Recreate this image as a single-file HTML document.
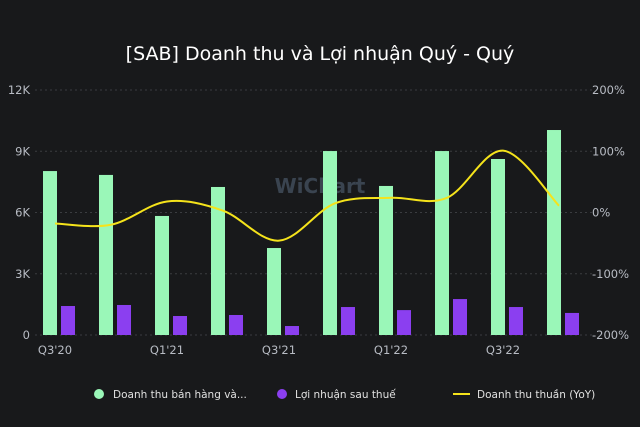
<!DOCTYPE html>
<html><head><meta charset="utf-8"><style>
html,body{margin:0;padding:0;background:#18191b;}
svg{display:block;font-family:"DejaVu Sans","Liberation Sans","Noto Sans CJK SC",sans-serif;}
</style></head><body>
<svg id="chart" width="640" height="427" viewBox="0 0 640 427">
<rect width="640" height="427" fill="#18191b"/>
<text x="320" y="60" text-anchor="middle" fill="#ffffff" font-size="19">[SAB] Doanh thu và Lợi nhuận Quý - Quý</text>
<text x="320" y="193" text-anchor="middle" fill="#3a4450" font-size="20" font-weight="bold">WiChart</text>
<g id="grid"></g><g id="bars"></g><g id="line"></g><g id="axes"></g>
<g>
<g><circle cx="99" cy="394" r="5" fill="#9af7b8"/><text x="113" y="398" fill="#e0e0e0" font-size="10.5">Doanh thu bán hàng và...</text></g>
<g><circle cx="282" cy="394" r="5" fill="#8b3ff0"/><text x="295" y="398" fill="#e0e0e0" font-size="10.5">Lợi nhuận sau thuế</text></g>
<g><line x1="453" y1="394" x2="470" y2="394" stroke="#f5e31b" stroke-width="2"/><text x="477" y="398" fill="#e0e0e0" font-size="10.5">Doanh thu thuần (YoY)</text></g>
</g>
</svg>
<script>
const categories=["Q3'20","Q4'20","Q1'21","Q2'21","Q3'21","Q4'21","Q1'22","Q2'22","Q3'22","Q4'22"];
const revenue=[8030,7840,5830,7250,4260,9010,7300,9010,8620,10040];
const profit=[1420,1470,930,980,440,1370,1220,1760,1370,1080];
const yoy=[-18,-20,18,3,-46,15,24,24,101,11];
const leftTicks=[0,3000,6000,9000,12000];
const leftLabels=["0","3K","6K","9K","12K"];
const rightTicks=[-200,-100,0,100,200];
const rightLabels=["-200%","-100%","0%","100%","200%"];
const NS="http://www.w3.org/2000/svg";
const plotTop=90,plotBottom=335,x0=27,step=56;
const yL=v=>plotBottom-(v/12000)*(plotBottom-plotTop);
const yR=v=>plotBottom-((v+200)/400)*(plotBottom-plotTop);
const xC=i=>x0+step*(i+0.5);
function mk(tag,attrs,parent){const e=document.createElementNS(NS,tag);for(const k in attrs)e.setAttribute(k,attrs[k]);document.getElementById(parent).appendChild(e);return e;}
leftTicks.forEach((t,i)=>{
 const g=mk('line',{x1:35,x2:592,y1:yL(t),y2:yL(t),stroke:'#3a3c40','stroke-dasharray':'2,3'},'grid');
 
 
 const l=mk('text',{x:30,y:yL(t)+4,'text-anchor':'end',fill:'#b8bcc4','font-size':'11.5'},'axes');l.textContent=leftLabels[i];
 
 
});
rightTicks.forEach((t,i)=>{
 const l=mk('text',{x:592,y:yR(t)+4,fill:'#b8bcc4','font-size':'11.5'},'axes');l.textContent=rightLabels[i];
 
 
});
categories.forEach((c,i)=>{
 const b=mk('rect',{x:xC(i)-12,y:yL(revenue[i]),width:14,height:plotBottom-yL(revenue[i]),fill:'#9af7b8'},'bars');
 
 
 const p=mk('rect',{x:xC(i)+6,y:yL(profit[i]),width:14,height:plotBottom-yL(profit[i]),fill:'#8b3ff0'},'bars');
 
 
 if(i%2===0){const t=mk('text',{x:xC(i),y:354,'text-anchor':'middle',fill:'#b8bcc4','font-size':'11.5'},'axes');t.textContent=c;
 
 }
});
const pts=yoy.map((v,i)=>[xC(i),yR(v)]);
let d=`M${pts[0][0]},${pts[0][1]}`;
for(let i=0;i<pts.length-1;i++){const p0=pts[Math.max(0,i-1)],p1=pts[i],p2=pts[i+1],p3=pts[Math.min(pts.length-1,i+2)];
 const c1=[p1[0]+(p2[0]-p0[0])/6,p1[1]+(p2[1]-p0[1])/6],c2=[p2[0]-(p3[0]-p1[0])/6,p2[1]-(p3[1]-p1[1])/6];
 d+=` C${c1[0]},${c1[1]} ${c2[0]},${c2[1]} ${p2[0]},${p2[1]}`;}
const ln=mk('path',{d:d,fill:'none',stroke:'#f5e31b','stroke-width':2},'line');


</script>
</body></html>
